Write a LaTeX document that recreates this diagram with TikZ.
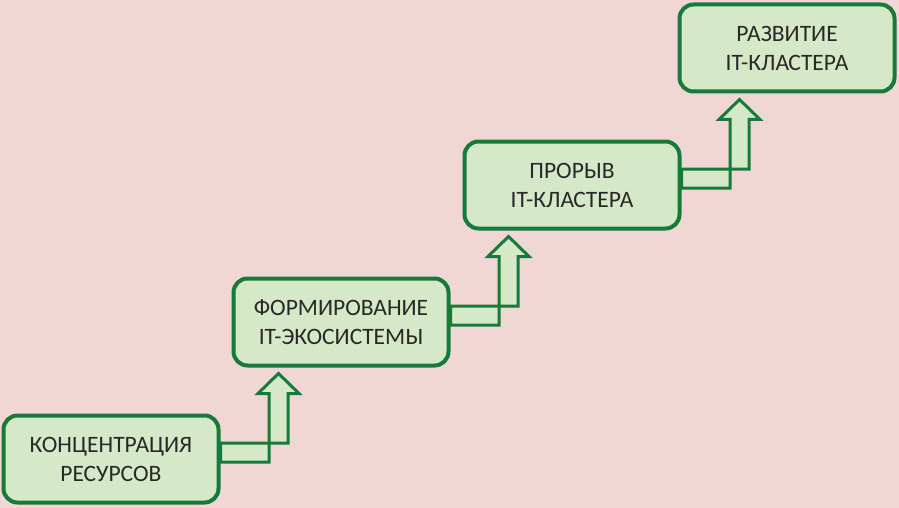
\documentclass[tikz,border=0pt]{standalone}
\usepackage{fontspec}
\setmainfont{Carlito}
\usepackage{xcolor}
\definecolor{stagepink}{RGB}{241, 214, 214}
\definecolor{stagefill}{RGB}{213, 232, 199}
\definecolor{stagegreen}{RGB}{22, 122, 56}
\definecolor{stagetext}{RGB}{40, 40, 40}
\usetikzlibrary{calc}

% elbow block arrow from the right side of one stage up to the next one
\newcommand{\stairarrow}[2]{%
  \draw[stairline] let \p1=(#1.east), \p2=(#2.south) in
    (\x1,\y1-3pt) -- (\x1+48.5pt,\y1-3pt) -- (\x1+48.5pt,\y2-26pt)
    -- (\x1+37.5pt,\y2-26pt) -- (\x1+58pt,\y2-6pt) -- (\x1+78.5pt,\y2-26pt)
    -- (\x1+67.5pt,\y2-26pt) -- (\x1+67.5pt,\y1+16pt) -- (\x1,\y1+16pt) -- cycle;}

\begin{document}
\begin{tikzpicture}[x=1pt, y=-1pt,
    stage/.style={draw=stagegreen, fill=stagefill, line width=4pt, rounded corners=14pt,
        minimum width=215pt, minimum height=87pt, align=center, inner sep=0pt,
        text=stagetext, font=\fontsize{23.5}{29}\selectfont},
    stairline/.style={draw=stagegreen, fill=stagefill, line width=3pt, line join=miter}]
    \fill[stagepink] (0,0) rectangle (899,508);
    \useasboundingbox (0,0) rectangle (899,508);

    % Stages
    \node[stage] (concentr) at (111, 459) {КОНЦЕНТРАЦИЯ\\РЕСУРСОВ};
    \node[stage] (ecosys) at (341, 322) {ФОРМИРОВАНИЕ\\IT-ЭКОСИСТЕМЫ};
    \node[stage] (breakthr) at (572, 185) {ПРОРЫВ\\IT-КЛАСТЕРА};
    \node[stage] (develop) at (787, 48) {РАЗВИТИЕ\\IT-КЛАСТЕРА};

    % Steps between stages
    \stairarrow{concentr}{ecosys}
    \stairarrow{ecosys}{breakthr}
    \stairarrow{breakthr}{develop}
\end{tikzpicture}
\end{document}
